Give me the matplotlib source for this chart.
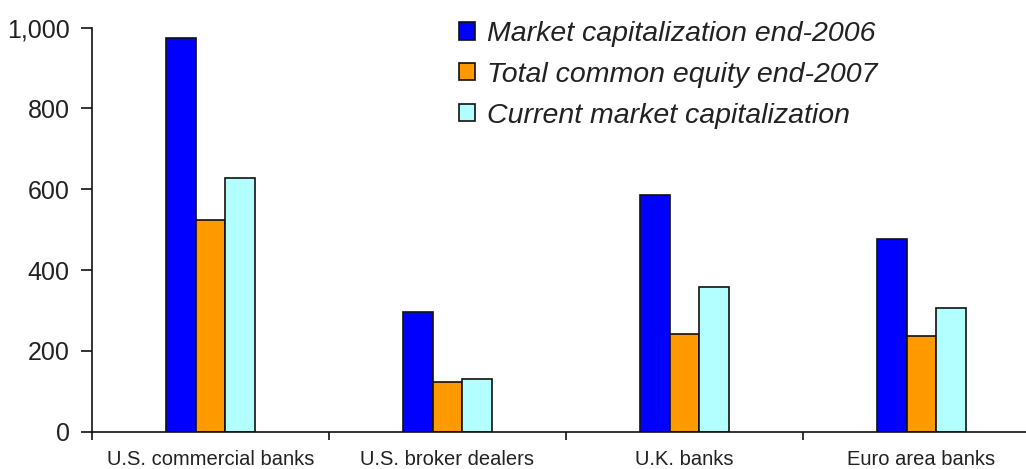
import matplotlib.pyplot as plt
import numpy as np

categories = ['U.S. commercial banks', 'U.S. broker dealers', 'U.K. banks', 'Euro area banks']
series_names = ['Market capitalization end-2006', 'Total common equity end-2007',
                'Current market capitalization']
mcap_2006 = [973, 295, 586, 476]
equity_2007 = [523, 122, 241, 236]
mcap_now = [628, 131, 358, 307]
colors = ['#0000FF', '#FF9900', '#B3FFFF']

plt.rcParams['font.family'] = ['Liberation Sans', 'DejaVu Sans']

fig = plt.figure(figsize=(10.26, 4.69), dpi=100)
ax = fig.add_axes([92 / 1026, 37.3 / 469, 948 / 1026, 404.2 / 469])

x = np.arange(len(categories))
w = 0.125
for i, (vals, name) in enumerate(zip([mcap_2006, equity_2007, mcap_now], series_names)):
    ax.bar(x + (i - 1) * w, vals, w, color=colors[i], edgecolor='#111111',
           linewidth=1.2, label=name, zorder=2)

ax.set_xlim(-0.5, 3.5)
ax.set_ylim(0, 1000)
ax.set_yticks(range(0, 1001, 200))
ax.set_yticklabels(['0', '200', '400', '600', '800', '1,000'])
ax.set_xticks([-0.5, 0.5, 1.5, 2.5])
ax.set_xticklabels([])
ax.set_xticks(x, minor=True)
ax.set_xticklabels(categories, minor=True)
ax.tick_params(axis='x', which='minor', length=0, pad=13, labelsize=14.5, labelcolor='#222222')
ax.tick_params(axis='x', which='major', length=6, width=1.2, color='#111111')
ax.tick_params(axis='y', length=8, width=1.2, pad=8, labelsize=18, labelcolor='#222222',
               color='#111111')

for s in ['top', 'right']:
    ax.spines[s].set_visible(False)
for s in ['left', 'bottom']:
    ax.spines[s].set_linewidth(1.2)
    ax.spines[s].set_color('#111111')

leg = ax.legend(loc='upper left', bbox_to_anchor=(459 / 1026, 1 - 21 / 469),
                bbox_transform=fig.transFigure, frameon=False, fontsize=20.5,
                handlelength=0.55, handleheight=0.55, handletextpad=0.42,
                labelspacing=0.52, borderaxespad=0, borderpad=0)
for t in leg.get_texts():
    t.set_fontstyle('italic')
    t.set_color('#222222')

fig.savefig('out.png', dpi=100)
